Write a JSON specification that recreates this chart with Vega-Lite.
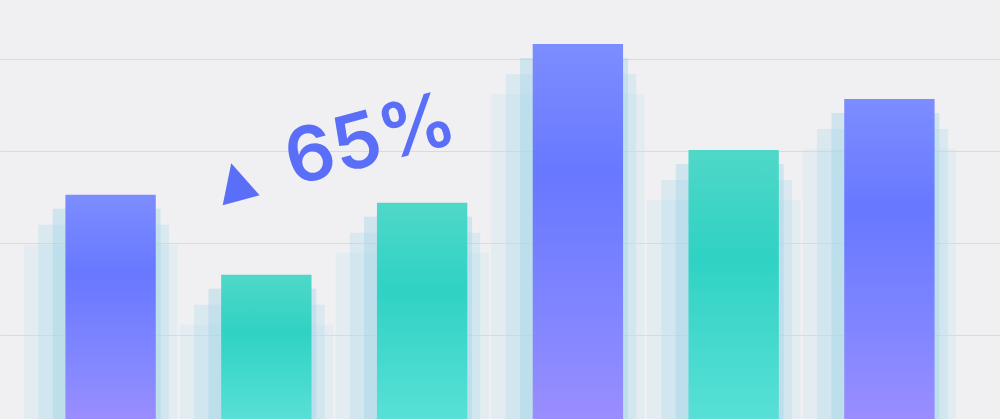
{
  "$schema": "https://vega.github.io/schema/vega-lite/v6.json",
  "autosize": {"type": "fit", "contains": "padding"},
  "width": 1000,
  "height": 419,
  "padding": 0,
  "background": "#f0eff2",
  "config": {"view": {"stroke": null}},
  "datasets": {
    "bars": [
      {"period": "P1", "value": 53.5, "series": "purple"},
      {"period": "P2", "value": 34.4, "series": "green"},
      {"period": "P3", "value": 51.6, "series": "green"},
      {"period": "P4", "value": 89.5, "series": "purple"},
      {"period": "P5", "value": 64.2, "series": "green"},
      {"period": "P6", "value": 76.4, "series": "purple"}
    ],
    "callout": [
      {"period": "P2", "value": 63, "label": "65%"}
    ]
  },
  "encoding": {
    "x": {
      "field": "period",
      "type": "nominal",
      "axis": null,
      "scale": {"paddingInner": 0.42, "paddingOuter": 0.42}
    },
    "y": {
      "field": "value",
      "type": "quantitative",
      "scale": {"domain": [0, 100], "nice": false},
      "axis": {
        "title": null,
        "labels": false,
        "ticks": false,
        "domain": false,
        "values": [20, 42, 64, 86],
        "gridColor": "#d9d9de",
        "gridWidth": 1
      }
    }
  },
  "layer": [
    {
      "data": {"name": "bars"},
      "mark": {"type": "bar", "width": {"band": 1.7}, "xOffset": -10, "yOffset": 50, "cornerRadiusTopLeft": 40, "cornerRadiusTopRight": 40, "color": "#c4e3ef", "opacity": 0.3}
    },
    {
      "data": {"name": "bars"},
      "mark": {"type": "bar", "width": {"band": 1.45}, "xOffset": -7, "yOffset": 30, "cornerRadiusTopLeft": 30, "cornerRadiusTopRight": 30, "color": "#b3dcec", "opacity": 0.35}
    },
    {
      "data": {"name": "bars"},
      "mark": {"type": "bar", "width": {"band": 1.2}, "xOffset": -4, "yOffset": 14, "cornerRadiusTopLeft": 16, "cornerRadiusTopRight": 16, "color": "#9fd4e8", "opacity": 0.4}
    },
    {
      "data": {"name": "bars"},
      "transform": [{"filter": "datum.series == 'purple'"}],
      "mark": {
        "type": "bar",
        "color": {
          "gradient": "linear",
          "x1": 0, "y1": 0, "x2": 0, "y2": 1,
          "stops": [
            {"offset": 0, "color": "#7c8dff"},
            {"offset": 0.35, "color": "#6878ff"},
            {"offset": 0.75, "color": "#8387ff"},
            {"offset": 1, "color": "#9a8dff"}
          ]
        }
      }
    },
    {
      "data": {"name": "bars"},
      "transform": [{"filter": "datum.series == 'green'"}],
      "mark": {
        "type": "bar",
        "color": {
          "gradient": "linear",
          "x1": 0, "y1": 0, "x2": 0, "y2": 1,
          "stops": [
            {"offset": 0, "color": "#4fd8c8"},
            {"offset": 0.4, "color": "#2fd2c4"},
            {"offset": 1, "color": "#58e0d6"}
          ]
        }
      }
    },
    {
      "data": {"name": "callout"},
      "mark": {
        "type": "text",
        "text": "▲",
        "font": "DejaVu Sans",
        "fontSize": 50,
        "color": "#5b6ef7",
        "angle": 345,
        "dx": -36,
        "dy": 16
      }
    },
    {
      "data": {"name": "callout"},
      "mark": {
        "type": "text",
        "font": "Inter",
        "fontWeight": 600,
        "fontSize": 76,
        "color": "#5b6ef7",
        "align": "left",
        "angle": 345,
        "dx": 18,
        "dy": 14
      },
      "encoding": {"text": {"field": "label"}}
    }
  ]
}
